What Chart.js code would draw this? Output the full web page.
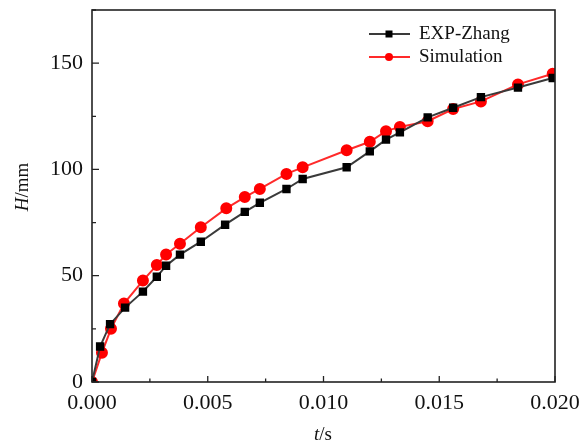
<!DOCTYPE html>
<html>
<head>
<meta charset="utf-8">
<script src="https://cdn.jsdelivr.net/npm/chart.js@4/dist/chart.umd.min.js"></script>
<style>
  html, body { margin: 0; padding: 0; background: #fff; }
  #wrap { width: 587px; height: 445px; position: relative; }
</style>
</head>
<body>
<div id="wrap"><canvas id="c"></canvas></div>
<script>
// values
const expT = [0, 0.00035, 0.00078, 0.00143, 0.0022, 0.0028, 0.0032, 0.0038, 0.0047, 0.00575, 0.0066, 0.00725,
  0.0084, 0.0091, 0.0110, 0.0120, 0.0127, 0.0133, 0.0145, 0.0156, 0.0168, 0.0184, 0.0199];
const expH = [0, 16.7, 27.2, 35.0, 42.5, 49.5, 54.7, 59.9, 66.0, 74.0, 80.0, 84.3,
  90.8, 95.5, 101.0, 108.5, 114.0, 117.4, 124.5, 129.0, 134.0, 138.5, 143.0];
const simT = [0, 0.00043, 0.00082, 0.00138, 0.0022, 0.0028, 0.0032, 0.0038, 0.0047, 0.0058, 0.0066, 0.00725,
  0.0084, 0.0091, 0.0110, 0.0120, 0.0127, 0.0133, 0.0145, 0.0156, 0.0168, 0.0184, 0.0199];
const simH = [0, 13.8, 25.0, 36.9, 47.7, 55.0, 60.0, 65.0, 72.8, 81.7, 87.0, 90.8,
  97.9, 101.0, 109.0, 113.0, 118.0, 120.0, 122.7, 128.4, 132.0, 140.0, 145.0];
const xTicks = [0, 0.005, 0.010, 0.015, 0.020];
const yTicks = [0, 50, 100, 150];
const seriesNames = ['EXP-Zhang', 'Simulation'];

const SERIF = '"Liberation Serif", "Times New Roman", serif';

const frame = {
  id: 'frame',
  afterDatasetsDraw(chart) {
    const { ctx, chartArea: a, scales: { x, y } } = chart;
    ctx.save();
    ctx.strokeStyle = '#222';
    ctx.lineWidth = 1.6;
    ctx.strokeRect(a.left, a.top, a.right - a.left, a.bottom - a.top);
    ctx.lineWidth = 1.3;
    ctx.beginPath();
    for (let v = 0; v <= 0.02 + 1e-9; v += 0.0025) {
      const px = x.getPixelForValue(v);
      const major = Math.abs(v / 0.005 - Math.round(v / 0.005)) < 1e-6;
      ctx.moveTo(px, a.bottom);
      ctx.lineTo(px, a.bottom - (major ? 6 : 3.5));
    }
    for (let v = 0; v <= 175; v += 25) {
      const py = y.getPixelForValue(v);
      const major = v % 50 === 0;
      ctx.moveTo(a.left, py);
      ctx.lineTo(a.left + (major ? 7 : 4), py);
    }
    ctx.stroke();

    // legend
    ctx.font = '19px ' + SERIF;
    ctx.textBaseline = 'middle';
    chart.data.datasets.forEach((ds, i) => {
      const ly = 34 + i * 23;
      ctx.strokeStyle = ds.borderColor;
      ctx.lineWidth = 2;
      ctx.beginPath();
      ctx.moveTo(369, ly);
      ctx.lineTo(410, ly);
      ctx.stroke();
      ctx.fillStyle = ds.pointBackgroundColor;
      if (ds.pointStyle === 'rect') {
        ctx.fillRect(389 - 3.5, ly - 3.5, 7, 7);
      } else {
        ctx.beginPath();
        ctx.arc(389, ly, 4, 0, Math.PI * 2);
        ctx.fill();
      }
      ctx.fillStyle = '#111';
      ctx.textAlign = 'left';
      ctx.fillText(ds.label, 419, ly);
    });

    // axis titles
    ctx.fillStyle = '#111';
    ctx.font = 'italic 19px ' + SERIF;
    const tW = ctx.measureText('t').width;
    ctx.font = '19px ' + SERIF;
    const sW = ctx.measureText('/s').width;
    let sx = 323 - (tW + sW) / 2;
    ctx.textAlign = 'left';
    ctx.font = 'italic 19px ' + SERIF;
    ctx.fillText('t', sx, 435);
    ctx.font = '19px ' + SERIF;
    ctx.fillText('/s', sx + tW, 435);

    ctx.translate(23, 187);
    ctx.rotate(-Math.PI / 2);
    ctx.font = 'italic 19px ' + SERIF;
    const hW = ctx.measureText('H').width;
    ctx.font = '19px ' + SERIF;
    const mW = ctx.measureText('/mm').width;
    sx = -(hW + mW) / 2;
    ctx.font = 'italic 19px ' + SERIF;
    ctx.fillText('H', sx, 0);
    ctx.font = '19px ' + SERIF;
    ctx.fillText('/mm', sx + hW, 0);
    ctx.restore();
  }
};

new Chart(document.getElementById('c'), {
  type: 'line',
  data: {
    datasets: [
      {
        label: seriesNames[0],
        data: expT.map((t, i) => ({ x: t, y: expH[i] })),
        borderColor: '#3a3a3a', backgroundColor: '#000',
        pointBackgroundColor: '#000', pointBorderColor: '#000',
        pointStyle: 'rect', pointRadius: 4.5, borderWidth: 2, tension: 0
      },
      {
        label: seriesNames[1],
        data: simT.map((t, i) => ({ x: t, y: simH[i] })),
        borderColor: '#ff2a2a', backgroundColor: '#ff0000',
        pointBackgroundColor: '#ff0000', pointBorderColor: '#ff0000',
        pointStyle: 'circle', pointRadius: 5, borderWidth: 2, tension: 0
      }
    ]
  },
  options: {
    responsive: true, maintainAspectRatio: false, animation: false,
    layout: { padding: { top: 10, right: 32, left: 0, bottom: 0 } },
    plugins: { legend: { display: false }, tooltip: { enabled: false } },
    scales: {
      x: {
        type: 'linear', min: 0, max: 0.02,
        grid: { display: false, drawTicks: false },
        border: { display: false },
        afterBuildTicks: s => { s.ticks = xTicks.map(v => ({ value: v })); },
        afterFit: s => { s.height = 63; s.paddingLeft = 0; s.paddingRight = 0; },
        ticks: { color: '#111', padding: 8, maxRotation: 0, font: { family: SERIF, size: 22 }, callback: v => v.toFixed(3) }
      },
      y: {
        min: 0, max: 175,
        grid: { display: false, drawTicks: false },
        border: { display: false },
        afterBuildTicks: s => { s.ticks = yTicks.map(v => ({ value: v })); },
        afterFit: s => { s.width = 92; s.paddingTop = 0; s.paddingBottom = 0; },
        ticks: { color: '#111', padding: 9, font: { family: SERIF, size: 22 } }
      }
    }
  },
  plugins: [frame]
});
</script>
</body>
</html>
